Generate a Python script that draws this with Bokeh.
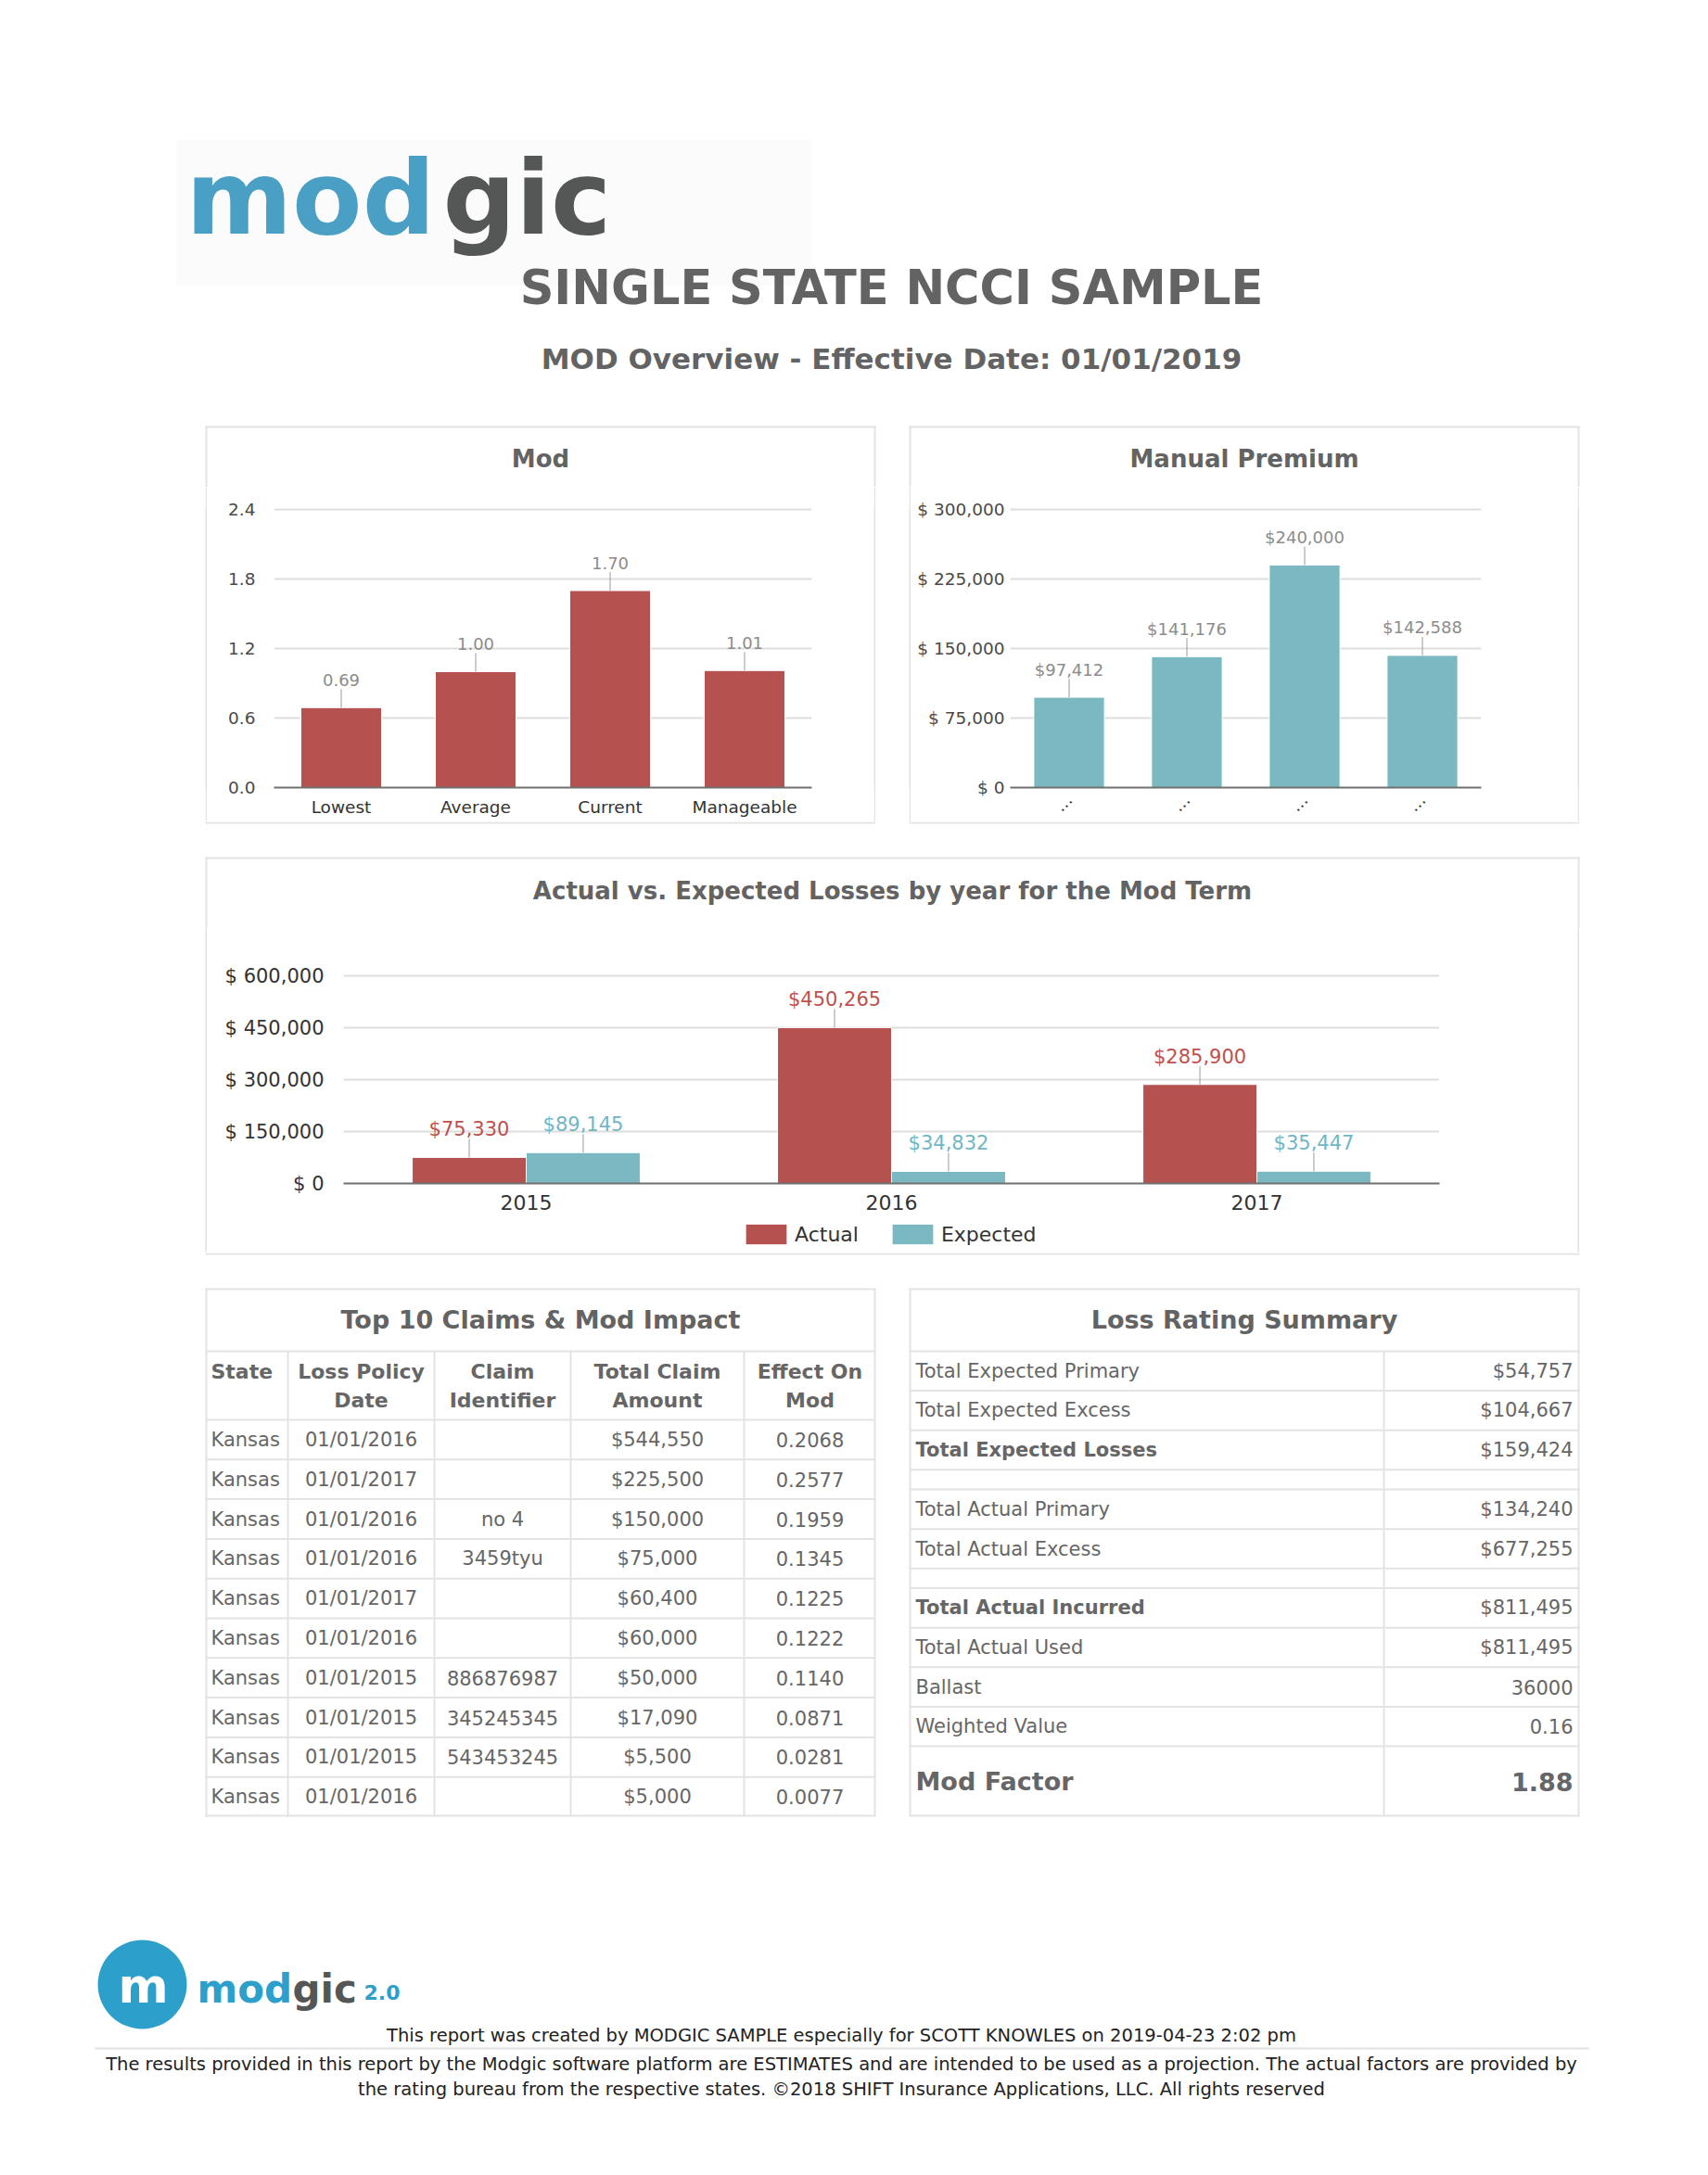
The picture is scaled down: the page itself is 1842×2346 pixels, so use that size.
import math
from bokeh.plotting import figure
from bokeh.models import (Range1d, FactorRange, FixedTicker, NumeralTickFormatter,
                          ColumnDataSource, Legend, LegendItem, Spacer)
from bokeh.layouts import row, column
from bokeh.transform import dodge
from bokeh.core.properties import value
from bokeh.embed import file_html
from bokeh.resources import INLINE

# ------------------------------------------------------------------ data
logo_left_part = "mod"
logo_right_part = "gic"
footer_logo_version = "2.0"
report_title = "SINGLE STATE NCCI SAMPLE"
report_subtitle = "MOD Overview - Effective Date: 01/01/2019"

mod_title = "Mod"
mod_categories = ["Lowest", "Average", "Current", "Manageable"]
mod_values = [0.69, 1.00, 1.70, 1.01]
mod_ticks = [0.0, 0.6, 1.2, 1.8, 2.4]

premium_title = "Manual Premium"
premium_category_labels = ["...", "...", "...", "..."]
premium_values = [97412, 141176, 240000, 142588]
premium_ticks = [0, 75000, 150000, 225000, 300000]
premium_tick_labels = ["$ 0", "$ 75,000", "$ 150,000", "$ 225,000", "$ 300,000"]

loss_title = "Actual vs. Expected Losses by year for the Mod Term"
loss_years = ["2015", "2016", "2017"]
loss_actual = [75330, 450265, 285900]
loss_expected = [89145, 34832, 35447]
loss_series = ["Actual", "Expected"]
loss_ticks = [0, 150000, 300000, 450000, 600000]
loss_tick_labels = ["$ 0", "$ 150,000", "$ 300,000", "$ 450,000", "$ 600,000"]

claims_title = "Top 10 Claims & Mod Impact"
claim_headers_line1 = ["State", "Loss Policy", "Claim", "Total Claim", "Effect On"]
claim_headers_line2 = ["", "Date", "Identifier", "Amount", "Mod"]
claim_states = ["Kansas"] * 10
claim_dates = ["01/01/2016", "01/01/2017", "01/01/2016", "01/01/2016", "01/01/2017",
               "01/01/2016", "01/01/2015", "01/01/2015", "01/01/2015", "01/01/2016"]
claim_ids = ["", "", "no 4", "3459tyu", "", "", "886876987", "345245345", "543453245", ""]
claim_amounts = ["$544,550", "$225,500", "$150,000", "$75,000", "$60,400",
                 "$60,000", "$50,000", "$17,090", "$5,500", "$5,000"]
claim_effects = ["0.2068", "0.2577", "0.1959", "0.1345", "0.1225",
                 "0.1222", "0.1140", "0.0871", "0.0281", "0.0077"]

summary_title = "Loss Rating Summary"
summary_labels = ["Total Expected Primary", "Total Expected Excess", "Total Expected Losses", "",
                  "Total Actual Primary", "Total Actual Excess", "",
                  "Total Actual Incurred", "Total Actual Used", "Ballast", "Weighted Value",
                  "Mod Factor"]
summary_values = ["$54,757", "$104,667", "$159,424", "",
                  "$134,240", "$677,255", "",
                  "$811,495", "$811,495", "36000", "0.16",
                  "1.88"]

footer_created = ("This report was created by MODGIC SAMPLE especially for SCOTT KNOWLES "
                  "on 2019-04-23 2:02 pm")
footer_disclaimer_1 = ("The results provided in this report by the Modgic software platform are "
                       "ESTIMATES and are intended to be used as a projection. The actual factors "
                       "are provided by")
footer_disclaimer_2 = ("the rating bureau from the respective states. \u00a92018 SHIFT Insurance "
                       "Applications, LLC. All rights reserved")

# ------------------------------------------------------------------ style
FONT = "DejaVu Sans"
RED = "#b5514f"
TEAL = "#7ab8c2"
RED_TEXT = "#c0504d"
TEAL_TEXT = "#70b6c3"
GRID = "#dddddd"
BORDER = "#e3e3e3"
TITLE_GRAY = "#636363"
TEXT_GRAY = "#666666"
DATA_LABEL = "#8c8c8c"
LOGO_BLUE = "#4a9fc4"
LOGO_GRAY = "#555757"
FOOT_BLUE = "#2ca0cb"

W = 1836


def page_fig(y0, y1):
    f = figure(width=W, height=y1 - y0, x_range=Range1d(0, W), y_range=Range1d(y1, y0),
               x_axis_type=None, y_axis_type=None, min_border=0, toolbar_location=None,
               output_backend="svg", title=None, outline_line_color=None)
    return f


def vline_fig(h):
    f = figure(width=2, height=h, x_range=Range1d(0, 1), y_range=Range1d(0, 1),
               x_axis_type=None, y_axis_type=None, min_border=0, toolbar_location=None,
               output_backend="svg", title=None, outline_line_color=None,
               background_fill_color=BORDER, border_fill_color=BORDER)
    f.quad(left=[0], right=[1], top=[1], bottom=[0], fill_color=BORDER, line_color=None)
    return f


def add_rects(f, rects, color):
    f.quad(left=[r[0] for r in rects], right=[r[1] for r in rects],
           top=[r[2] for r in rects], bottom=[r[3] for r in rects],
           fill_color=color, line_color=None)


def add_texts(f, xs, ys, texts, size, color, bold=False, align="left"):
    # ys are the visual (vertical) centres of the texts
    f.text(x=xs, y=ys, text=texts, text_font=value(FONT), text_font_size=f"{size}px",
           text_font_style="bold" if bold else "normal", text_color=color,
           text_align=align, text_baseline="middle")


def chart_fig(x_range, y_range, w, h, left, right, top, bottom):
    p = figure(x_range=x_range, y_range=y_range, width=w, height=h,
               min_border_left=left, min_border_right=right,
               min_border_top=top, min_border_bottom=bottom,
               toolbar_location=None, output_backend="svg", title=None,
               outline_line_color=None)
    p.xgrid.visible = False
    p.ygrid.grid_line_color = GRID
    p.ygrid.grid_line_width = 2
    p.yaxis.axis_line_color = None
    p.yaxis.major_tick_line_color = None
    p.yaxis.minor_tick_line_color = None
    p.yaxis.major_tick_out = 0
    p.yaxis.major_tick_in = 0
    p.yaxis.major_label_text_font = FONT
    p.xaxis.axis_line_color = "#707070"
    p.xaxis.axis_line_width = 2
    p.xaxis.major_tick_line_color = None
    p.xaxis.minor_tick_line_color = None
    p.xaxis.major_tick_out = 0
    p.xaxis.major_tick_in = 0
    p.xaxis.major_label_text_font = FONT
    return p


def set_yticks(p, ticks):
    t = FixedTicker(ticks=ticks)
    p.yaxis.ticker = t
    p.ygrid.ticker = t


def data_labels(p, x, y, text, color, size, source=None):
    kw = {} if source is None else {"source": source}
    p.ray(x=x, y=y, length=20, length_units="screen", angle=math.pi / 2,
          line_color="#9a9a9a", line_width=1, **kw)
    p.text(x=x, y=y, text=text, y_offset=-30, text_align="center", text_baseline="middle",
           text_font=value(FONT), text_font_size=f"{size}px", text_color=color, **kw)


# ------------------------------------------------------------------ header (y 0..525)
fa = page_fig(0, 525)
add_rects(fa, [(190, 875, 150, 307)], "#fbfbfb")
add_texts(fa, [200], [213], [logo_left_part], 110, LOGO_BLUE, bold=True)
add_texts(fa, [477], [213], [logo_right_part], 110, LOGO_GRAY, bold=True)
add_texts(fa, [961], [309.5], [report_title], 51, TITLE_GRAY, bold=True, align="center")
add_texts(fa, [961], [386], [report_subtitle], 31, TITLE_GRAY, bold=True, align="center")
add_rects(fa, [(221, 944, 459, 461), (980, 1703, 459, 461),
               (221, 223, 459, 525), (942, 944, 459, 525),
               (980, 982, 459, 525), (1701, 1703, 459, 525)], BORDER)
add_texts(fa, [582.5, 1341.5], [494.5, 494.5], [mod_title, premium_title], 26, TITLE_GRAY,
          bold=True, align="center")

# ------------------------------------------------------------------ Mod chart
mod_fig = chart_fig(FactorRange(factors=mod_categories), Range1d(0, mod_ticks[-1] * 302 / 300),
                    719, 361, 72, 67, 22, 37)
mod_fig.vbar(x=mod_categories, top=mod_values, width=0.6, fill_color=RED,
             line_color="white", line_width=1)
data_labels(mod_fig, mod_categories, mod_values, [f"{v:.2f}" for v in mod_values],
            DATA_LABEL, 18)
set_yticks(mod_fig, mod_ticks)
mod_fig.yaxis.formatter = NumeralTickFormatter(format="0.0")
mod_fig.yaxis.major_label_standoff = 20
mod_fig.yaxis.major_label_text_font_size = "18.5px"
mod_fig.yaxis.major_label_text_color = "#4a4a4a"
mod_fig.xaxis.major_label_standoff = 10
mod_fig.xaxis.major_label_text_font_size = "18.5px"
mod_fig.xaxis.major_label_text_color = "#333333"

# ------------------------------------------------------------------ Manual premium chart
premium_x = [i + 0.5 for i in range(len(premium_values))]
mp_fig = chart_fig(Range1d(0, len(premium_values)),
                   Range1d(0, premium_ticks[-1] * 302 / 300), 719, 361, 107, 104, 22, 37)
mp_fig.vbar(x=premium_x, top=premium_values, width=0.6, fill_color=TEAL,
            line_color="white", line_width=1)
data_labels(mp_fig, premium_x, premium_values, [f"${v:,}" for v in premium_values],
            DATA_LABEL, 18)
set_yticks(mp_fig, premium_ticks)
mp_fig.yaxis.major_label_overrides = dict(zip(premium_ticks, premium_tick_labels))
mp_fig.yaxis.major_label_standoff = 6
mp_fig.yaxis.major_label_text_font_size = "18.5px"
mp_fig.yaxis.major_label_text_color = "#4a4a4a"
mp_fig.xaxis.ticker = FixedTicker(ticks=premium_x)
mp_fig.xaxis.major_label_overrides = dict(zip(premium_x, premium_category_labels))
mp_fig.xaxis.major_label_orientation = math.pi / 4
mp_fig.xaxis.major_label_standoff = 10
mp_fig.xaxis.major_label_text_font_size = "18.5px"
mp_fig.xaxis.major_label_text_color = "#333333"

row1 = row(Spacer(width=221, height=361), vline_fig(361), mod_fig, vline_fig(361),
           Spacer(width=36, height=361), vline_fig(361), mp_fig, vline_fig(361),
           Spacer(width=W - 1703, height=361))

# ------------------------------------------------------------------ between (y 886..1000)
fb = page_fig(886, 1000)
add_rects(fb, [(221, 944, 886, 888), (980, 1703, 886, 888),
               (221, 1703, 924, 926), (221, 223, 924, 1000), (1701, 1703, 924, 1000)], BORDER)
add_texts(fb, [962], [960], [loss_title], 26, TITLE_GRAY, bold=True, align="center")

# ------------------------------------------------------------------ losses chart (y 1000..1316)
src = ColumnDataSource(dict(
    year=loss_years, actual=loss_actual, expected=loss_expected,
    actual_label=[f"${v:,}" for v in loss_actual],
    expected_label=[f"${v:,}" for v in loss_expected]))
loss_x_range = FactorRange(factors=loss_years)
lp = chart_fig(loss_x_range, Range1d(0, loss_ticks[-1] * 226 / 224),
               1478, 316, 147, 149, 50, 40)
xa = dodge("year", -0.156, range=loss_x_range)
xe = dodge("year", 0.156, range=loss_x_range)
lp.vbar(x=xa, top="actual", width=0.312, source=src, fill_color=RED,
        line_color="white", line_width=1)
lp.vbar(x=xe, top="expected", width=0.312, source=src, fill_color=TEAL,
        line_color="white", line_width=1)
data_labels(lp, xa, "actual", "actual_label", RED_TEXT, 21, source=src)
data_labels(lp, xe, "expected", "expected_label", TEAL_TEXT, 21, source=src)
set_yticks(lp, loss_ticks)
lp.yaxis.major_label_overrides = dict(zip(loss_ticks, loss_tick_labels))
lp.yaxis.major_label_standoff = 21
lp.yaxis.major_label_text_font_size = "21px"
lp.yaxis.major_label_text_color = "#333333"
lp.xaxis.major_label_standoff = 12
lp.xaxis.major_label_text_font_size = "22px"
lp.xaxis.major_label_text_color = "#333333"

# legend strip under the losses chart (y 1316..1351); its frame lines up with the chart frame
lg = figure(width=1478, height=35, x_range=loss_x_range, y_range=Range1d(0, 1),
            x_axis_type=None, y_axis_type=None, min_border=0, toolbar_location=None,
            output_backend="svg", title=None, outline_line_color=None)
# legend keys: zero-height copies of the two bar series (nothing visible is drawn)
key_a = lg.vbar(x=xa, top=0, width=0.312, source=src, fill_color=RED,
                line_color="white", line_width=1)
key_e = lg.vbar(x=xe, top=0, width=0.312, source=src, fill_color=TEAL,
                line_color="white", line_width=1)
legend = Legend(items=[LegendItem(label=loss_series[0], renderers=[key_a]),
                       LegendItem(label=loss_series[1], renderers=[key_e])],
                orientation="horizontal", location=(428, 6), glyph_width=56,
                glyph_height=28, label_height=22, label_standoff=3, spacing=30, padding=0,
                margin=0, border_line_color=None, background_fill_alpha=0,
                label_text_font=FONT, label_text_font_size="22px", label_text_color="#333333")
lg.add_layout(legend)

row2 = row(Spacer(width=221, height=351), vline_fig(351), column(lp, lg), vline_fig(351),
           Spacer(width=W - 1703, height=351))

# ------------------------------------------------------------------ lower page (y 1351..2340)
fc = page_fig(1351, 2340)
lines = [(221, 1703, 1351, 1353)]

# --- top 10 claims table
c_left, c_right, c_top, c_bot = 221, 944, 1389, 1959
col_edges = [221, 310, 468, 615, 802, 944]
title_bottom, header_bottom = 1457, 1531
row_h = (c_bot - header_bottom) / len(claim_states)
lines += [(c_left, c_right, c_top, c_top + 2), (c_left, c_right, c_bot - 2, c_bot),
          (c_left, c_left + 2, c_top, c_bot), (c_right - 2, c_right, c_top, c_bot)]
lines.append((c_left, c_right, title_bottom - 1, title_bottom + 1))
lines.append((c_left, c_right, header_bottom - 1, header_bottom + 1))
for i in range(1, len(claim_states)):
    y = header_bottom + row_h * i
    lines.append((c_left, c_right, y - 1, y + 1))
for xe_ in col_edges[1:-1]:
    lines.append((xe_ - 1, xe_ + 1, title_bottom, c_bot))

add_texts(fc, [(c_left + c_right) / 2], [1423], [claims_title], 27, TITLE_GRAY, bold=True,
          align="center")
centers = [(col_edges[k] + col_edges[k + 1]) / 2 for k in range(5)]
add_texts(fc, [227], [1479], [claim_headers_line1[0]], 22, TEXT_GRAY, bold=True)
add_texts(fc, centers[1:], [1479] * 4, claim_headers_line1[1:], 22, TEXT_GRAY, bold=True,
          align="center")
add_texts(fc, centers[1:], [1510] * 4, claim_headers_line2[1:], 22, TEXT_GRAY, bold=True,
          align="center")
row_mid = [header_bottom + row_h * (i + 0.5) for i in range(len(claim_states))]
add_texts(fc, [227] * len(claim_states), row_mid, claim_states, 21, TEXT_GRAY)
for k, col in enumerate([claim_dates, claim_ids, claim_amounts, claim_effects]):
    add_texts(fc, [centers[k + 1]] * len(col), row_mid, col, 21, TEXT_GRAY, align="center")

# --- loss rating summary table
s_left, s_right, s_top, s_bot = 980, 1703, 1389, 1959
s_div = 1492
lines += [(s_left, s_right, s_top, s_top + 2), (s_left, s_right, s_bot - 2, s_bot),
          (s_left, s_left + 2, s_top, s_bot), (s_right - 2, s_right, s_top, s_bot),
          (s_div - 1, s_div + 1, title_bottom, s_bot)]
lines.append((s_left, s_right, title_bottom - 1, title_bottom + 1))
add_texts(fc, [(s_left + s_right) / 2], [1423], [summary_title], 27, TITLE_GRAY, bold=True,
          align="center")
bold_rows = {"Total Expected Losses", "Total Actual Incurred"}
y = title_bottom
for i, (lab, val) in enumerate(zip(summary_labels, summary_values)):
    last = i == len(summary_labels) - 1
    h = s_bot - y if last else (21.3 if lab == "" else 42.6)
    if lab:
        mid = y + h / 2
        if last:
            add_texts(fc, [987], [mid], [lab], 27, TEXT_GRAY, bold=True)
            add_texts(fc, [1696], [mid], [val], 27, TEXT_GRAY, bold=True, align="right")
        else:
            add_texts(fc, [987], [mid], [lab], 21, TEXT_GRAY, bold=lab in bold_rows)
            add_texts(fc, [1696], [mid], [val], 21, TEXT_GRAY, align="right")
    y += h
    if not last:
        lines.append((s_left, s_right, y - 1, y + 1))

add_rects(fc, lines, BORDER)

# --- footer
fc.circle(x=[153], y=[2140], radius=48, fill_color=FOOT_BLUE, line_color=None)
add_texts(fc, [154], [2141], ["m"], 52, "white", bold=True, align="center")
add_texts(fc, [212], [2144.5], [logo_left_part], 42, FOOT_BLUE, bold=True)
add_texts(fc, [315], [2144.5], [logo_right_part], 42, LOGO_GRAY, bold=True)
add_texts(fc, [392], [2148.5], [footer_logo_version], 22, FOOT_BLUE, bold=True)
add_texts(fc, [907], [2195], [footer_created], 19.5, "#222222", align="center")
add_rects(fc, [(102, 1713, 2208, 2210)], "#e0e0e0")
add_texts(fc, [907, 907], [2225.5, 2253], [footer_disclaimer_1, footer_disclaimer_2], 19.5,
          "#222222", align="center")

page = column(fa, row1, fb, row2, fc)

open("out.html", "w").write(file_html(page, INLINE))
